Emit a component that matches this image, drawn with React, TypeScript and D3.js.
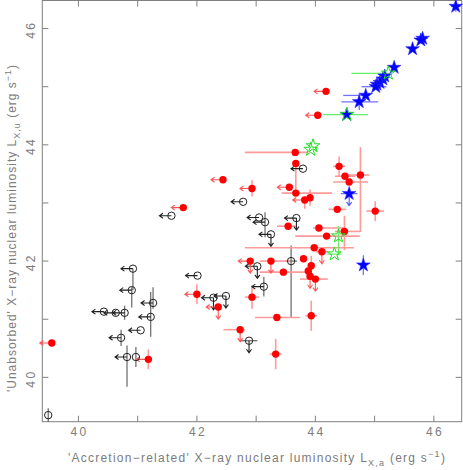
import React from 'react';
import * as d3 from 'd3';

// each point: x, y in log erg/s; ex/ey = [minus, plus] error in dex; xul/yul = upper limit arrows
type Pt = { x: number; y: number; ex?: number[]; ey?: number[]; xul?: boolean; yul?: boolean };

const xTicks = [40, 42, 44, 46];
const yTicks = [40, 42, 44, 46];
const xMinor = [40, 41, 42, 43, 44, 45, 46];
const yMinor = [40, 41, 42, 43, 44, 45, 46];

const blueStars: Pt[] = [
  { x: 46.37, y: 46.38, ex: [0.08, 0.08], ey: [0.09, 0.09] },
  { x: 45.81, y: 45.83 },
  { x: 45.78, y: 45.8 },
  { x: 45.64, y: 45.65 },
  { x: 45.33, y: 45.33 },
  { x: 45.17, y: 45.18 },
  { x: 45.14, y: 45.13 },
  { x: 45.09, y: 45.07 },
  { x: 45.04, y: 45.04 },
  { x: 45.02, y: 45.0, ex: [0.24, 0.18] },
  { x: 44.85, y: 44.85, ex: [0.38, 0.07] },
  { x: 44.74, y: 44.74, ex: [0.3, 0.32], ey: [0.14, 0.14] },
  { x: 44.53, y: 44.52 },
  { x: 44.57, y: 43.16, ex: [0.14, 0.14], yul: true },
  { x: 44.81, y: 41.93, ey: [0.17, 0.17] },
];

const greenStars: Pt[] = [
  { x: 45.23, y: 45.23, ex: [0.62, 0.03] },
  { x: 44.53, y: 44.52, ex: [0.4, 0.36] },
  { x: 43.96, y: 43.98 },
  { x: 43.92, y: 43.92 },
  { x: 44.39, y: 42.43, ey: [0.33, 0.17] },
  { x: 44.32, y: 42.12, ex: [0.12, 0.12] },
];

const redDots: Pt[] = [
  { x: 44.18, y: 44.92, xul: true },
  { x: 44.04, y: 44.51, xul: true },
  { x: 43.66, y: 43.87, ex: [0.85, 0.22] },
  { x: 43.67, y: 43.68, ey: [0.55, 0] },
  { x: 44.4, y: 43.63, ex: [0.1, 0.1], ey: [0.17, 0.17] },
  { x: 44.5, y: 43.46, ex: [0.17, 0.17] },
  { x: 44.57, y: 43.36, ex: [0.27, 0.32] },
  { x: 44.76, y: 43.48, ex: [0.23, 0.15], ey: [0.98, 0.48] },
  { x: 42.44, y: 43.4, xul: true },
  { x: 42.93, y: 43.25, ey: [0.14, 0.14], xul: true },
  { x: 43.56, y: 43.27, xul: true },
  { x: 43.67, y: 43.17, ex: [0.24, 0.61] },
  { x: 43.82, y: 43.05, ey: [0.15, 0], xul: true },
  { x: 43.91, y: 43.09, ey: [0.14, 0.14] },
  { x: 41.77, y: 42.92, xul: true },
  { x: 44.37, y: 42.89, ex: [0.15, 0.15] },
  { x: 45.01, y: 42.86, ex: [0.15, 0.15], ey: [0.17, 0.17] },
  { x: 43.54, y: 42.6, ex: [0.19, 0.14] },
  { x: 44.06, y: 42.57, ex: [0.1, 0.41] },
  { x: 44.49, y: 42.51, ex: [0.16, 0.27], ey: [0.32, 0.27] },
  { x: 44.19, y: 42.43, ex: [0.53, 0.56] },
  { x: 43.98, y: 42.23, ex: [1.17, 0.67] },
  { x: 44.11, y: 42.16, ex: [0.1, 0.1], yul: true },
  { x: 43.8, y: 42.04 },
  { x: 42.9, y: 42.0, xul: true, yul: true },
  { x: 43.25, y: 42.0, ex: [0.19, 0.32], yul: true },
  { x: 43.93, y: 41.92, ey: [0.17, 0.17] },
  { x: 43.46, y: 41.81, ex: [0.4, 0.45] },
  { x: 43.88, y: 41.83 },
  { x: 43.91, y: 41.74, yul: true },
  { x: 44.0, y: 41.69, ex: [0.26, 0.21], yul: true },
  { x: 42.93, y: 41.38, ex: [0.12, 0.12], ey: [0.2, 0.2] },
  { x: 42.0, y: 41.43, ey: [0.17, 0.17], xul: true },
  { x: 42.36, y: 41.21, xul: true, yul: true },
  { x: 43.93, y: 41.06, ex: [0.1, 0.1], ey: [0.26, 0.26] },
  { x: 43.35, y: 41.03, ex: [0.37, 0.39] },
  { x: 42.73, y: 40.82, ex: [0.28, 0.08], yul: true },
  { x: 43.33, y: 40.4, ex: [0.1, 0.1], ey: [0.26, 0.26] },
  { x: 41.18, y: 40.31, ey: [0.17, 0.17], xul: true },
  { x: 39.55, y: 40.59, xul: true },
];

const openCircles: Pt[] = [
  { x: 39.49, y: 39.35, ey: [0.12, 0.12] },
  { x: 40.92, y: 41.87, ey: [0.37, 0], xul: true },
  { x: 40.9, y: 41.5, ey: [0.3, 0.05], xul: true },
  { x: 41.26, y: 41.28, ey: [0.1, 0.27], xul: true },
  { x: 41.22, y: 41.04, ey: [0.34, 0.43], xul: true },
  { x: 40.43, y: 41.13, xul: true },
  { x: 40.63, y: 41.11, xul: true },
  { x: 40.78, y: 41.11, ey: [0.12, 0.12], xul: true },
  { x: 41.05, y: 40.81, xul: true },
  { x: 40.72, y: 40.68, ey: [0.14, 0.14], xul: true },
  { x: 40.82, y: 40.35, ey: [0.51, 0.2], xul: true },
  { x: 40.97, y: 40.35, ey: [0.17, 0.17] },
  { x: 42.01, y: 41.75, xul: true },
  { x: 43.79, y: 43.59, xul: true },
  { x: 42.78, y: 43.02, xul: true },
  { x: 41.57, y: 42.78, xul: true },
  { x: 43.05, y: 42.75, xul: true },
  { x: 43.15, y: 42.67, ey: [0.26, 0.17], xul: true },
  { x: 43.68, y: 42.74, xul: true, yul: true },
  { x: 43.25, y: 42.46, xul: true, yul: true },
  { x: 43.59, y: 42.0, ex: [0.1, 0.1], ey: [0.98, 0.27] },
  { x: 43.02, y: 41.91, xul: true, yul: true },
  { x: 43.13, y: 41.56, ey: [0.17, 0.17], xul: true },
  { x: 42.49, y: 41.4, xul: true, yul: true },
  { x: 42.28, y: 41.37, xul: true, yul: true },
  { x: 42.88, y: 40.63, ex: [0.14, 0.14], yul: true },
];

const W = 463;
const H = 470;
const left = 42.3, right = 461.7, top = 0.5, bottom = 421.7;

const x = d3.scaleLinear().domain([39.39, 46.47]).range([left, right]);
const y = d3.scaleLinear().domain([39.237, 46.483]).range([bottom, top]);

const frame = '#808080';
const textCol = '#7c7c7c';
const font = "'Liberation Sans', Arial, Helvetica, sans-serif";

const starPath = d3.symbol().type(d3.symbolStar).size(58)() as string;
const ARROW = 12;

function ErrBars({ pts, color, width = 1.3 }: { pts: Pt[]; color: string; width?: number }) {
  return (
    <g stroke={color} strokeWidth={width} fill="none">
      {pts.map((d, i) => (
        <g key={i}>
          {d.ex && <line x1={x(d.x - d.ex[0])} x2={x(d.x + d.ex[1])} y1={y(d.y)} y2={y(d.y)} />}
          {d.ey && <line x1={x(d.x)} x2={x(d.x)} y1={y(d.y - d.ey[0])} y2={y(d.y + d.ey[1])} />}
        </g>
      ))}
    </g>
  );
}

function Arrows({ pts, color }: { pts: Pt[]; color: string }) {
  return (
    <g stroke={color} strokeWidth={1.1} fill="none">
      {pts.map((d, i) => {
        const cx = x(d.x), cy = y(d.y);
        return (
          <g key={i}>
            {d.xul && (
              <path d={`M${cx},${cy}H${cx - ARROW}M${cx - ARROW + 3.5},${cy - 2.5}L${cx - ARROW},${cy}L${cx - ARROW + 3.5},${cy + 2.5}`} />
            )}
            {d.yul && (
              <path d={`M${cx},${cy}V${cy + ARROW}M${cx - 2.5},${cy + ARROW - 3.5}L${cx},${cy + ARROW}L${cx + 2.5},${cy + ARROW - 3.5}`} />
            )}
          </g>
        );
      })}
    </g>
  );
}

export default function App() {
  return (
    <div style={{ position: 'absolute', left: 0, top: 0 }}>
      <svg width={W} height={H} style={{ display: 'block', background: '#fff' }}>
        {/* frame + ticks */}
        <rect x={left} y={top} width={right - left} height={bottom - top} fill="none" stroke={frame} strokeWidth={1} />
        <g stroke={frame} strokeWidth={1}>
          {xMinor.map(t => (
            <g key={'x' + t}>
              <line x1={x(t)} x2={x(t)} y1={bottom} y2={bottom - 6} />
              <line x1={x(t)} x2={x(t)} y1={top} y2={top + 6} />
            </g>
          ))}
          {yMinor.map(t => (
            <g key={'y' + t}>
              <line x1={left} x2={left + 6} y1={y(t)} y2={y(t)} />
              <line x1={right} x2={right - 6} y1={y(t)} y2={y(t)} />
            </g>
          ))}
        </g>
        <g fill={textCol} fontFamily={font} fontSize={12}>
          {xTicks.map(t => (
            <text key={t} x={x(t) + 1.2} y={436} textAnchor="middle" letterSpacing={2.4}>{t}</text>
          ))}
          {yTicks.map(t => (
            <text key={t} transform={`translate(35,${y(t) + 1.2}) rotate(-90)`} textAnchor="middle" letterSpacing={2.4}>{t}</text>
          ))}
          <text x={257} y={462} textAnchor="middle" letterSpacing={1.25}>
            'Accretion−related' X−ray nuclear luminosity L
            <tspan fontSize={9} dy={3.5}>X,a</tspan>
            <tspan dy={-3.5}> (erg s</tspan>
            <tspan fontSize={9} dy={-5}>−1</tspan>
            <tspan dy={5}>)</tspan>
          </text>
          <text transform="translate(16,228) rotate(-90)" textAnchor="middle" letterSpacing={1.0}>
            'Unabsorbed' X−ray nuclear luminosity L
            <tspan fontSize={9} dy={3.5}>X,u</tspan>
            <tspan dy={-3.5}> (erg s</tspan>
            <tspan fontSize={9} dy={-5}>−1</tspan>
            <tspan dy={5}>)</tspan>
          </text>
        </g>

        {/* error bars */}
        <ErrBars pts={openCircles} color="#666" width={1.2} />
        <ErrBars pts={redDots} color="#ff9a9a" width={1.6} />
        <ErrBars pts={greenStars} color="#66ee66" width={1.2} />
        <ErrBars pts={blueStars} color="#7070ff" width={1.3} />

        {/* upper-limit arrows */}
        <Arrows pts={openCircles} color="#222" />
        <Arrows pts={redDots} color="#ff5555" />
        <Arrows pts={blueStars} color="#5050ff" />

        {/* markers */}
        <g fill="none" stroke="#222" strokeWidth={1}>
          {openCircles.map((d, i) => (
            <circle key={i} cx={x(d.x)} cy={y(d.y)} r={3.7} />
          ))}
        </g>
        <g fill="#ff0000">
          {redDots.map((d, i) => (
            <circle key={i} cx={x(d.x)} cy={y(d.y)} r={3.7} />
          ))}
        </g>
        <g fill="#0000ff" stroke="#2a2aff" strokeWidth={0.6}>
          {blueStars.map((d, i) => (
            <path key={i} d={starPath} transform={`translate(${x(d.x)},${y(d.y)})`} />
          ))}
        </g>
        <g fill="none" stroke="#22dd22" strokeWidth={1}>
          {greenStars.map((d, i) => (
            <path key={i} d={starPath} transform={`translate(${x(d.x)},${y(d.y)})`} />
          ))}
        </g>
      </svg>
    </div>
  );
}
